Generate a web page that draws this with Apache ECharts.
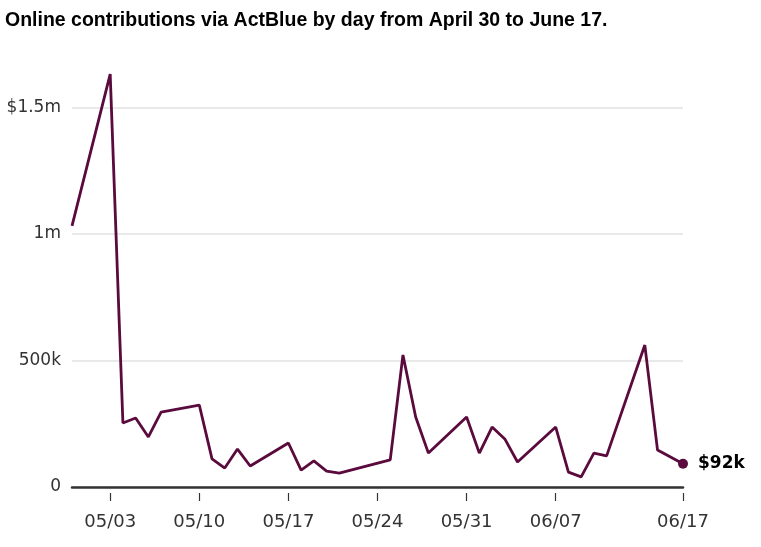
<!DOCTYPE html>
<html>
<head>
<meta charset="utf-8">
<script src="https://cdn.jsdelivr.net/npm/echarts@6/dist/echarts.min.js"></script>
<style>
html,body{margin:0;padding:0;background:#fff;}
#chart{width:761px;height:547px;}
</style>
</head>
<body>
<div id="chart"></div>
<script>
// Data (dates as YYYY-MM-DD, values in dollars)
const dates = [
  '2019-04-30','2019-05-03','2019-05-04','2019-05-05','2019-05-06','2019-05-07',
  '2019-05-10','2019-05-11','2019-05-12','2019-05-13','2019-05-14',
  '2019-05-17','2019-05-18','2019-05-19','2019-05-20','2019-05-21',
  '2019-05-25','2019-05-26','2019-05-27','2019-05-28',
  '2019-05-31','2019-06-01','2019-06-02','2019-06-03','2019-06-04',
  '2019-06-07','2019-06-08','2019-06-09','2019-06-10','2019-06-11',
  '2019-06-14','2019-06-15','2019-06-17'
];
const contributions = [
  1032000, 1632000, 253000, 273000, 198000, 296000,
  324000, 111000, 75000, 150000, 83000,
  174000, 67000, 103000, 63000, 55000,
  107000, 522000, 277000, 134000,
  277000, 134000, 237000, 190000, 99000,
  237000, 59000, 40000, 134000, 123000,
  561000, 146000, 92000
];
const xTickDates = ['2019-05-03','2019-05-10','2019-05-17','2019-05-24','2019-05-31','2019-06-07','2019-06-17'];
const yTickValues = [0, 500000, 1000000, 1500000];
const yTickLabels = ['0', '500k', '1m', '$1.5m'];
const lastLabel = '$92k';
const titleText = 'Online contributions via ActBlue by day from April 30 to June 17.';

function ts(s){ const p = s.split('-').map(Number); return Date.UTC(p[0], p[1]-1, p[2]); }
function fmtDate(v){ const d = new Date(v); const m = d.getUTCMonth()+1, dd = d.getUTCDate(); return (m<10?'0':'')+m+'/'+(dd<10?'0':'')+dd; }

const seriesData = dates.map((d,i)=>[ts(d), contributions[i]]);
const xTicks = xTickDates.map(ts);
const xMin = ts('2019-04-30'), xMax = ts('2019-06-17');
const lineColor = '#5a0a3c';
const axisFont = 'DejaVu Sans, Verdana, sans-serif';

const chart = echarts.init(document.getElementById('chart'), null, {renderer:'canvas'});
chart.setOption({
  animation: false,
  backgroundColor: '#fff',
  title: {
    text: titleText,
    left: 0, top: 6,
    textStyle: {fontFamily: '"Liberation Sans Narrow", "Arial Narrow", sans-serif', fontWeight: 'bold', fontSize: 19.5, color: '#000'}
  },
  grid: {left: 72, right: 78, top: 107.5, bottom: 60},
  xAxis: [{
    type: 'value', min: xMin, max: xMax,
    axisLine: {show: true, lineStyle: {color: '#333', width: 2.5}},
    axisTick: {show: false}, axisLabel: {show: false}, splitLine: {show: false}
  }, {
    type: 'value', min: xMin, max: xMax, position: 'bottom', offset: 6,
    axisLine: {show: false},
    axisTick: {show: true, length: 8, customValues: xTicks, lineStyle: {color: '#333', width: 1.2}},
    axisLabel: {show: true, customValues: xTicks, formatter: v => fmtDate(v), margin: 20,
      fontFamily: axisFont, fontSize: 18, color: '#333'},
    splitLine: {show: false}
  }],
  yAxis: {
    type: 'value', min: 0, max: 1500000, interval: 500000,
    axisLine: {show: false}, axisTick: {show: false},
    axisLabel: {margin: 11, fontFamily: axisFont, fontSize: 17, color: '#333',
      formatter: v => { const i = yTickValues.indexOf(v); return i >= 0 ? yTickLabels[i] : ''; }},
    splitLine: {show: true, lineStyle: {color: '#e2e2e2', width: 1.5}}
  },
  series: [{
    type: 'line', xAxisIndex: 0, data: seriesData, showSymbol: false, clip: false,
    lineStyle: {color: lineColor, width: 2.8}, itemStyle: {color: lineColor}
  }, {
    type: 'scatter', xAxisIndex: 0, data: [seriesData[seriesData.length-1]], symbolSize: 10, clip: false,
    itemStyle: {color: lineColor, opacity: 1},
    label: {show: true, position: 'right', distance: 10, formatter: lastLabel,
      fontFamily: axisFont, fontWeight: 'bold', fontSize: 17, color: '#000', opacity: 1}
  }]
});
</script>
</body>
</html>
